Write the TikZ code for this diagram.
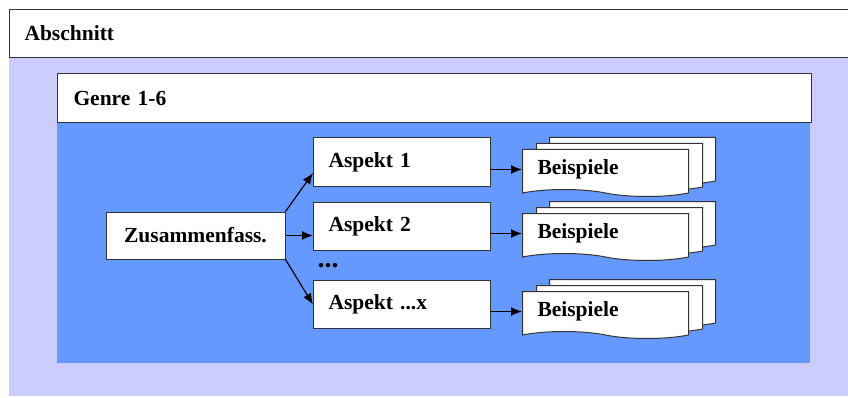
\documentclass[tikz,border=0pt]{standalone}
\usepackage{fontspec}
\setmainfont{Liberation Serif}
\usetikzlibrary{shapes.symbols,arrows.meta}
\definecolor{lavender}{HTML}{CCCCFF}
\definecolor{genreblue}{HTML}{6699FF}

\begin{document}
\begin{tikzpicture}[x=1pt,y=-1pt,
    font=\fontsize{21.5}{24}\selectfont\bfseries,
    box/.style={draw=black!80,fill=white,line width=1pt,inner sep=0pt},
    kopf/.style={box,anchor=north west,align=left},
    aspekt/.style={box,anchor=north west,minimum width=177pt,minimum height=48pt,
      text width=147pt,inner xsep=15pt,align=left},
    doc/.style={box,shape=tape,tape bend top=none,tape bend bottom=out and in,
      tape bend height=7pt,anchor=north west,minimum width=166pt,minimum height=47pt,
      text width=136pt,inner xsep=15pt,align=left},
    pfeil/.style={-{Latex[length=11pt,width=9pt]},line width=1.2pt}]
  \useasboundingbox (0,0) rectangle (848,398);
  % Hintergrund
  \fill[lavender] (9,57) rectangle (848,396);
  \fill[genreblue] (57,122) rectangle (810,363);
  % Kopfzeilen
  \node[kopf,minimum width=839pt,minimum height=48pt,text width=809pt,inner xsep=15pt]
    (abschnitt) at (9,9) {Abschnitt};
  \node[kopf,minimum width=754pt,minimum height=49pt,text width=722pt,inner xsep=16pt]
    (genre) at (57,73) {Genre 1-6};
  % Zusammenfassung und Aspekte
  \node[box,minimum width=179pt,minimum height=47pt] (zus) at (195.5,235.5) {Zusammenfass.};
  \node[aspekt,minimum height=49pt] (a1) at (313,137) {Aspekt 1};
  \node[aspekt] (a2) at (313,202) {Aspekt 2};
  \node[aspekt] (a3) at (313,280) {Aspekt ...x};
  \node[font=\fontsize{28}{28}\selectfont\bfseries] (dots) at (328,266) {...};
  \draw[pfeil] (zus.north east) -- ([yshift=-11pt]a1.west);
  \draw[pfeil] (zus.east |- a2.west) ++(0,9) coordinate (z2) (z2) -- (z2 -| a2.west);
  \draw[pfeil] (zus.south east) -- (a3.west);
  % Beispiele
  \foreach \i/\y in {1/149,2/213,3/291}{
    \node[doc] (b\i h) at (549,\y-12) {};
    \node[doc] (b\i m) at (536,\y-6) {};
    \node[doc] (b\i) at (522,\y) {Beispiele};
    \draw[pfeil] (a\i.east |- b\i.west) -- (b\i.west);
  }
\end{tikzpicture}
\end{document}
